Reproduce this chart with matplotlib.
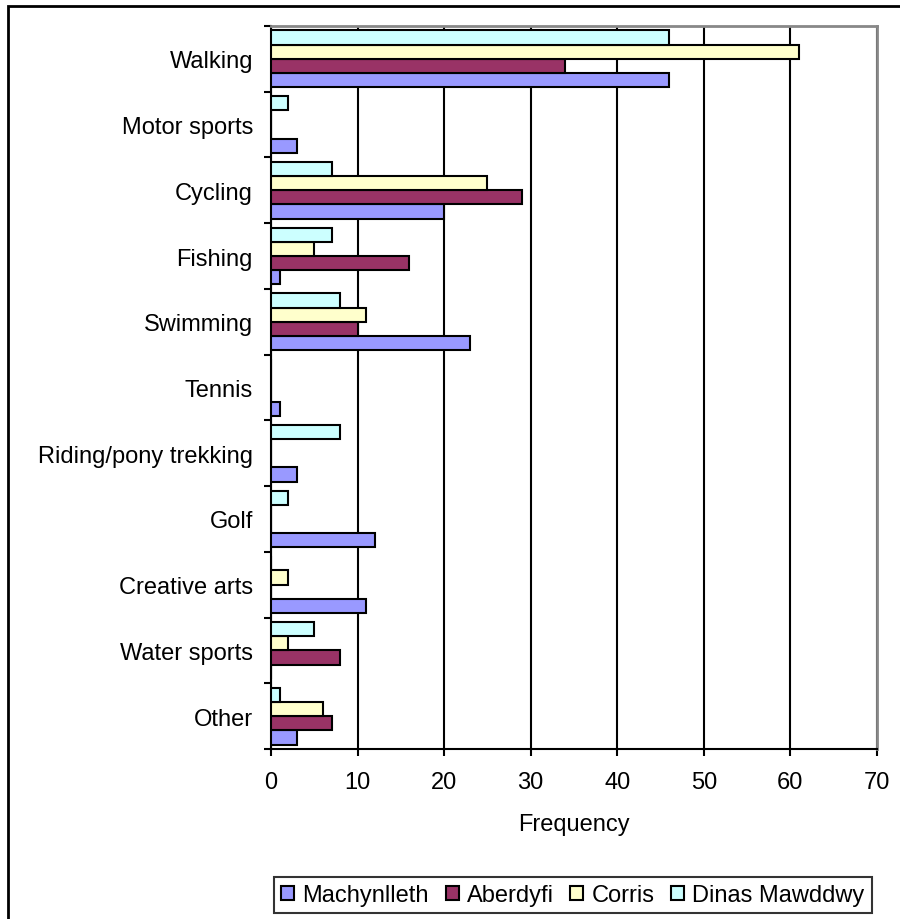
import numpy as np
import matplotlib.pyplot as plt
from matplotlib.patches import Rectangle

plt.rcParams['font.family'] = ['Liberation Sans', 'DejaVu Sans']

# data
activities = ['Walking', 'Motor sports', 'Cycling', 'Fishing', 'Swimming', 'Tennis',
              'Riding/pony trekking', 'Golf', 'Creative arts', 'Water sports', 'Other']
machynlleth = [46, 3, 20, 1, 23, 1, 3, 12, 11, 0, 3]
aberdyfi = [34, 0, 29, 16, 10, 0, 0, 0, 0, 8, 7]
corris = [61, 0, 25, 5, 11, 0, 0, 0, 2, 2, 6]
dinas = [46, 2, 7, 7, 8, 0, 8, 2, 0, 5, 1]

series = [('Machynlleth', machynlleth, '#9999FF'),
          ('Aberdyfi', aberdyfi, '#993366'),
          ('Corris', corris, '#FFFFCC'),
          ('Dinas Mawddwy', dinas, '#CCFFFF')]

fs = 17
fig = plt.figure(figsize=(9, 9.2), dpi=100)
ax = fig.add_axes([0.3011, 0.1848, 0.6733, 0.7859])

n = len(activities)
pos = np.arange(n)[::-1]  # Walking at top
h = 0.216
for i, (name, vals, col) in enumerate(series):
    ax.barh(pos + (i - 1.5) * h, vals, height=h, color=col, edgecolor='black',
            linewidth=1.5, label=name, zorder=3)

ax.set_xlim(0, 70)
ax.set_ylim(-0.5, n - 0.5)
ax.set_xticks(np.arange(0, 71, 10))
ax.set_yticks(pos)
ax.set_yticklabels(activities, fontsize=fs)
ax.set_yticks(np.arange(-0.5, n, 1), minor=True)
ax.tick_params(axis='y', which='major', length=0, pad=13)
ax.tick_params(axis='y', which='minor', length=5, width=1.5, direction='out')
ax.tick_params(axis='x', length=5, width=1.5, direction='out', labelsize=fs, pad=11)
ax.grid(axis='x', color='black', linewidth=1.5, zorder=0)
ax.set_xlabel('Frequency', fontsize=fs, labelpad=14)

for side in ['top', 'right']:
    ax.spines[side].set_color('#888888')
    ax.spines[side].set_linewidth(2)
ax.spines['left'].set_linewidth(1.5)
ax.spines['bottom'].set_linewidth(1.5)

leg = ax.legend(loc='center', bbox_to_anchor=(0.6367, 0.0261), bbox_transform=fig.transFigure,
                ncol=4, fontsize=fs, frameon=True, fancybox=False, edgecolor='black',
                handlelength=0.55, handleheight=0.55, handletextpad=0.35, columnspacing=0.7,
                borderpad=0.3, borderaxespad=0)
leg.get_frame().set_linewidth(1.5)

# outer chart border (only left and top edges fall inside the picture)
fig.patches.append(Rectangle((8 / 900, -0.1), 1.2, 1.1 - 7 / 920, transform=fig.transFigure,
                             fill=False, edgecolor='black', linewidth=2))

fig.savefig('out.png', dpi=100)
